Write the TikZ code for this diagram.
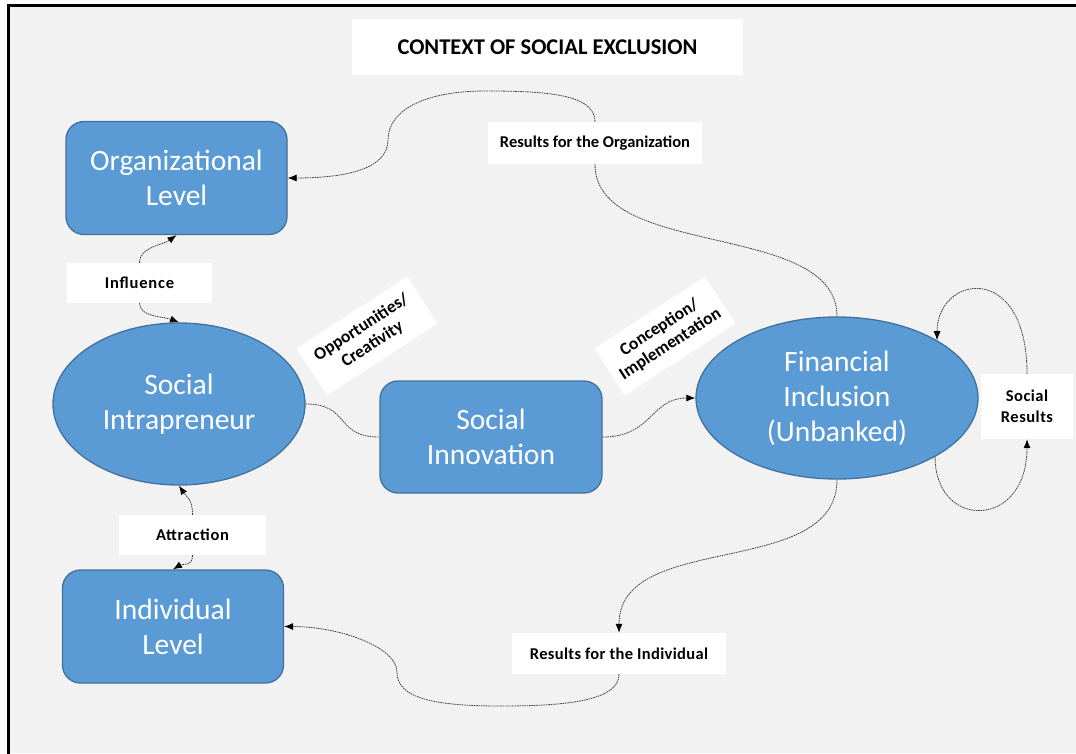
\documentclass[tikz,border=0pt]{standalone}
\usepackage{fontspec}
\setmainfont{Carlito}
\usetikzlibrary{shapes.geometric,arrows.meta}
\definecolor{bg}{HTML}{F2F2F2}
\definecolor{boxfill}{HTML}{5B9BD5}
\definecolor{boxline}{HTML}{41719C}
\definecolor{conncol}{HTML}{404040}
\begin{document}
\begin{tikzpicture}[x=1pt,y=-1pt,
  bignode/.style={fill=boxfill,draw=boxline,line width=1.3pt,text=white,
    font=\fontsize{29.5}{35}\selectfont,align=center,inner sep=0pt},
  levelbox/.style={bignode,rectangle,rounded corners=18pt,minimum width=221pt,minimum height=113pt},
  ovalnode/.style={bignode,ellipse},
  lbl/.style={fill=white,font=\bfseries\fontsize{16.5}{21}\selectfont,align=center,inner sep=0pt},
  tiltlbl/.style={lbl,minimum width=132pt,minimum height=56pt,rotate=33,font=\bfseries\fontsize{17.5}{20}\selectfont},
  conn/.style={draw=conncol,line width=0.8pt,dash pattern=on 1.6pt off 0.8pt},
  arr/.style={conn,-{Latex[length=9pt,width=7pt,color=black]}}
]
\useasboundingbox (0,0) rectangle (1076,753);
\fill[bg] (8,5) rectangle (1076,753);
\draw[line width=3pt,line cap=rect] (8,753) -- (8,5) -- (1076,5);

% title
\node[fill=white,minimum width=391pt,minimum height=56pt,inner sep=0pt,
  font=\bfseries\fontsize{22.5}{26}\selectfont] (title) at (547.5,47) {CONTEXT OF SOCIAL EXCLUSION};

% main nodes
\node[levelbox] (org) at (176.5,178) {Organizational\\Level};
\node[levelbox] (ind) at (173,626.5) {Individual\\Level};
\node[ovalnode,minimum width=252pt,minimum height=162pt] (intra) at (179,404) {Social\\Intrapreneur};
\node[levelbox,minimum width=222pt,minimum height=112pt] (si) at (491,437) {Social\\Innovation};
\node[ovalnode,minimum width=282pt,minimum height=162pt] (fi) at (837,398) {Financial\\Inclusion\\(Unbanked)};

% labels
\node[lbl,minimum width=145pt,minimum height=40pt] (infl) at (139.5,283) {\addfontfeature{LetterSpace=5}Influence};
\node[lbl,minimum width=147pt,minimum height=40pt] (attr) at (192.5,535) {\addfontfeature{LetterSpace=4}Attraction};
\node[lbl,minimum width=214pt,minimum height=42pt] (rorg) at (595,143) {Results for the Organization};
\node[lbl,minimum width=214pt,minimum height=41pt] (rind) at (619,653.5) {\addfontfeature{LetterSpace=2}Results for the Individual};
\node[lbl,minimum width=92pt,minimum height=65pt] (sr) at (1027,406.5) {\addfontfeature{LetterSpace=3}Social\\\addfontfeature{LetterSpace=3}Results};
\node[tiltlbl] (opp) at (367,336) {Opportunities/\\Creativity};
\node[tiltlbl] (conc) at (665,336) {Conception/\\Implementation};

% helper coordinates
\coordinate (p1) at (485,91);
\coordinate (p2) at (388,140);
\coordinate (p3) at (500,706);
\coordinate (p4) at (397,672);

% connectors
\draw[arr] (infl.north) .. controls +(0,-16) and +(-14,10) .. (org.south);
\draw[arr] (infl.south) .. controls +(0,14) and +(-16,-6) .. (intra.north);
\draw[arr] (attr.north) .. controls +(0,-16) and +(8,12) .. (intra.south);
\draw[arr] (attr.south) .. controls +(0,12) and +(10,-6) .. (ind.north);
\draw[conn] (intra.east) .. controls +(45,0) and +(-45,0) .. (si.west);
\draw[arr] (si.east) .. controls +(50,0) and +(-45,0) .. (fi.west);
\draw[conn] (fi.north) .. controls (837,220) and (595,260) .. (rorg.south);
\draw[arr] (rorg.north) .. controls +(0,-28) and +(60,0) .. (p1)
  .. controls +(-60,0) and +(0,-30) .. (p2)
  .. controls +(0,30) and +(55,0) .. (org.east);
\draw[arr] (fi.south) .. controls (837,580) and (619,530) .. (rind.north);
\draw[arr] (rind.south) .. controls +(0,28) and +(60,0) .. (p3)
  .. controls +(-70,0) and +(0,25) .. (p4)
  .. controls +(0,-25) and +(55,0) .. (ind.east);
\draw[arr] (sr.north) .. controls (1027,260) and (937,275) .. (fi.30);
\draw[arr] (fi.-31) .. controls (935,530) and (1027,530) .. (sr.south);
\end{tikzpicture}
\end{document}
